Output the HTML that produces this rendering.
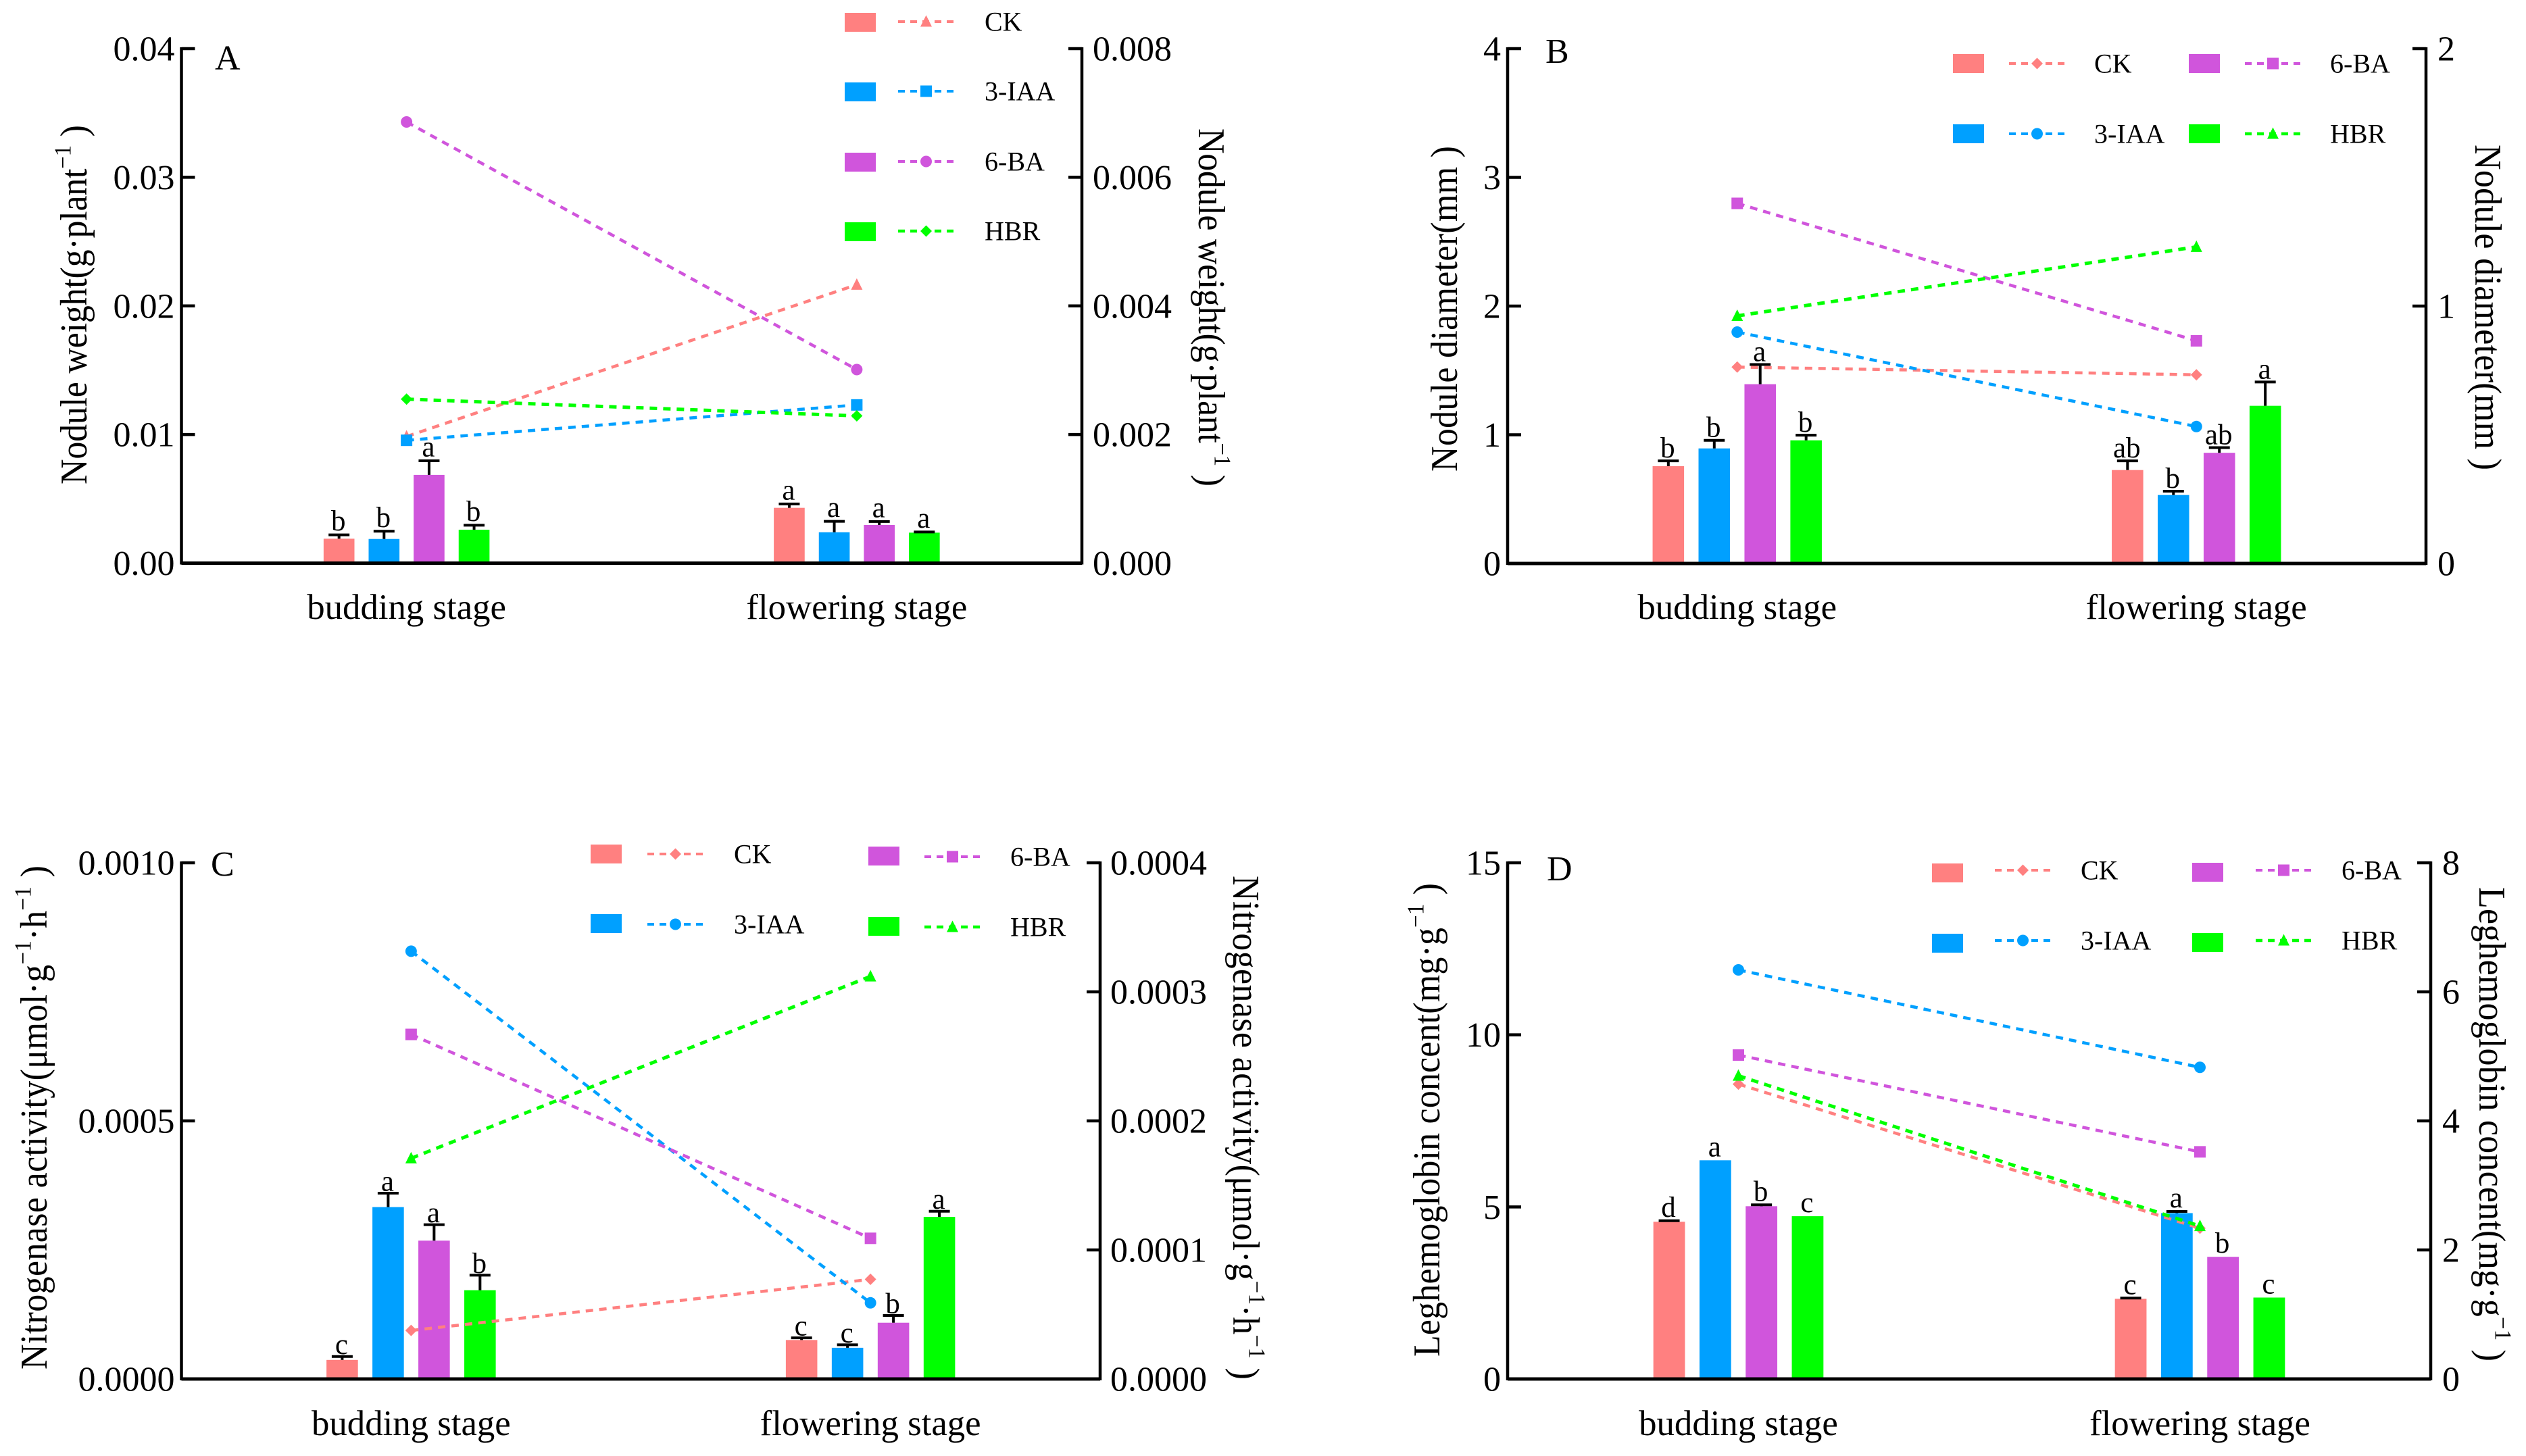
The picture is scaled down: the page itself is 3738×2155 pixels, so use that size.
<!DOCTYPE html>
<html lang="en">
<head>
<meta charset="utf-8">
<title>Nodule traits at budding and flowering stages</title>
<style>
html,body{margin:0;padding:0;background:#fff;}
svg{display:block;}
text{font-family:"Liberation Serif","DejaVu Serif",serif;fill:#000;}
</style>
</head>
<body>
<svg id="figure" xmlns="http://www.w3.org/2000/svg" width="3738" height="2155" viewBox="0 0 3738 2155"></svg>
<script>
const categories = ['budding stage', 'flowering stage'];
const seriesNames = ['CK', '3-IAA', '6-BA', 'HBR'];
const seriesSlugs = ['ck', '3-iaa', '6-ba', 'hbr'];
const seriesColors = ['#FF8080', '#00A0FF', '#D055DC', '#00FF00'];

/* Panel A: values ordered CK, 3-IAA, 6-BA, HBR */
const aBarsBudding = [0.0019, 0.00188, 0.00686, 0.0026];
const aBarsFlowering = [0.0043, 0.0024, 0.00297, 0.00237];
const aErrBudding = [0.0003, 0.0006, 0.0011, 0.00035];
const aErrFlowering = [0.0003, 0.00085, 0.00027, 0.00005];
const aLineBudding = [0.00197, 0.00191, 0.00686, 0.00255];
const aLineFlowering = [0.00433, 0.00246, 0.00301, 0.00229];
const aLettersBudding = ['b', 'b', 'a', 'b'];
const aLettersFlowering = ['a', 'a', 'a', 'a'];
const aLeftTicks = [0, 0.01, 0.02, 0.03, 0.04];
const aLeftLabels = ['0.00', '0.01', '0.02', '0.03', '0.04'];
const aRightTicks = [0, 0.002, 0.004, 0.006, 0.008];
const aRightLabels = ['0.000', '0.002', '0.004', '0.006', '0.008'];

/* Panel B */
const bBarsBudding = [0.756, 0.894, 1.393, 0.957];
const bBarsFlowering = [0.726, 0.532, 0.86, 1.225];
const bErrBudding = [0.041, 0.063, 0.153, 0.04];
const bErrFlowering = [0.071, 0.03, 0.04, 0.185];
const bLineBudding = [0.763, 0.899, 1.399, 0.962];
const bLineFlowering = [0.733, 0.532, 0.865, 1.23];
const bLettersBudding = ['b', 'b', 'a', 'b'];
const bLettersFlowering = ['ab', 'b', 'ab', 'a'];
const bLeftTicks = [0, 1, 2, 3, 4];
const bLeftLabels = ['0', '1', '2', '3', '4'];
const bRightTicks = [0, 1, 2];
const bRightLabels = ['0', '1', '2'];

/* Panel C */
const cBarsBudding = [0.0000369, 0.000333, 0.000268, 0.000172];
const cBarsFlowering = [0.0000755, 0.0000604, 0.000109, 0.000314];
const cErrBudding = [0.0000067, 0.000027, 0.000031, 0.000029];
const cErrFlowering = [0.0000042, 0.0000059, 0.000014, 0.000011];
const cLineBudding = [0.0000376, 0.0003315, 0.000267, 0.000171];
const cLineFlowering = [0.0000772, 0.000059, 0.000109, 0.000312];
const cLettersBudding = ['c', 'a', 'a', 'b'];
const cLettersFlowering = ['c', 'c', 'b', 'a'];
const cLeftTicks = [0, 0.0005, 0.001];
const cLeftLabels = ['0.0000', '0.0005', '0.0010'];
const cRightTicks = [0, 0.0001, 0.0002, 0.0003, 0.0004];
const cRightLabels = ['0.0000', '0.0001', '0.0002', '0.0003', '0.0004'];

/* Panel D */
const dBarsBudding = [4.568, 6.355, 5.02, 4.73];
const dBarsFlowering = [2.33, 4.82, 3.55, 2.366];
const dErrBudding = [0.03, 0, 0.04, 0];
const dErrFlowering = [0.02, 0.05, 0, 0];
const dLineBudding = [4.57, 6.34, 5.02, 4.7];
const dLineFlowering = [2.336, 4.83, 3.52, 2.37];
const dLettersBudding = ['d', 'a', 'b', 'c'];
const dLettersFlowering = ['c', 'a', 'b', 'c'];
const dLeftTicks = [0, 5, 10, 15];
const dLeftLabels = ['0', '5', '10', '15'];
const dRightTicks = [0, 2, 4, 6, 8];
const dRightLabels = ['0', '2', '4', '6', '8'];

const panels = [
  { id: 'a', letter: 'A', left: 268.5, right: 1601, top: 72, bottom: 833.5, sigGap: 6.5,
    letterX: 318, letterY: 103, leftGap: 10, rightGap: 16, xLabelY: 916,
    barsB: aBarsBudding, barsF: aBarsFlowering, errB: aErrBudding, errF: aErrFlowering,
    lineB: aLineBudding, lineF: aLineFlowering, letB: aLettersBudding, letF: aLettersFlowering,
    lt: aLeftTicks, ll: aLeftLabels, rt: aRightTicks, rl: aRightLabels,
    markers: ['triangle', 'square', 'circle', 'diamond'],
    leftTitle: { x: 128, y: 717, len: 532, parts: [['Nodule weight(g·plant'], ['−1', 1], [' )']] },
    rightTitle: { x: 1774, y: 190, len: 530, parts: [['Nodule weight(g·plant'], ['−1', 1], [' )']] },
    legend: [
      { sx: 1250, sy: 19, lx: 1329, ly: 32, tx: 1457 },
      { sx: 1250, sy: 122, lx: 1329, ly: 135, tx: 1457 },
      { sx: 1250, sy: 226, lx: 1329, ly: 239, tx: 1457 },
      { sx: 1250, sy: 329, lx: 1329, ly: 342, tx: 1457 }
    ] },
  { id: 'b', letter: 'B', left: 2231, right: 3590, top: 72, bottom: 834, sigGap: 5,
    letterX: 2287, letterY: 93, leftGap: 10, rightGap: 17, xLabelY: 916,
    barsB: bBarsBudding, barsF: bBarsFlowering, errB: bErrBudding, errF: bErrFlowering,
    lineB: bLineBudding, lineF: bLineFlowering, letB: bLettersBudding, letF: bLettersFlowering,
    lt: bLeftTicks, ll: bLeftLabels, rt: bRightTicks, rl: bRightLabels,
    markers: ['diamond', 'circle', 'square', 'triangle'],
    leftTitle: { x: 2156, y: 698, len: 482, parts: [['Nodule diameter(mm )']] },
    rightTitle: { x: 3663, y: 214, len: 482, parts: [['Nodule diameter(mm )']] },
    legend: [
      { sx: 2890, sy: 80, lx: 2973, ly: 94, tx: 3099 },
      { sx: 2890, sy: 184, lx: 2973, ly: 198, tx: 3099 },
      { sx: 3239, sy: 80, lx: 3322, ly: 94, tx: 3448 },
      { sx: 3239, sy: 184, lx: 3322, ly: 198, tx: 3448 }
    ] },
  { id: 'c', letter: 'C', left: 268.5, right: 1628, top: 1277, bottom: 2041, sigGap: 3.5,
    letterX: 312, letterY: 1296, leftGap: 10, rightGap: 15, xLabelY: 2124,
    barsB: cBarsBudding, barsF: cBarsFlowering, errB: cErrBudding, errF: cErrFlowering,
    lineB: cLineBudding, lineF: cLineFlowering, letB: cLettersBudding, letF: cLettersFlowering,
    lt: cLeftTicks, ll: cLeftLabels, rt: cRightTicks, rl: cRightLabels,
    markers: ['diamond', 'circle', 'square', 'triangle'],
    leftTitle: { x: 69, y: 2027, len: 746, parts: [['Nitrogenase activity(μmol·g'], ['−1', 1], ['·h'], ['−1', 1], [' )']] },
    rightTitle: { x: 1825, y: 1296, len: 746, parts: [['Nitrogenase activity(μmol·g'], ['−1', 1], ['·h'], ['−1', 1], [' )']] },
    legend: [
      { sx: 874, sy: 1250, lx: 958, ly: 1264, tx: 1086 },
      { sx: 874, sy: 1353, lx: 958, ly: 1368, tx: 1086 },
      { sx: 1285, sy: 1253, lx: 1368, ly: 1268, tx: 1495 },
      { sx: 1285, sy: 1357, lx: 1368, ly: 1372, tx: 1495 }
    ] },
  { id: 'd', letter: 'D', left: 2231, right: 3597, top: 1277, bottom: 2041, sigGap: 6,
    letterX: 2289, letterY: 1303, leftGap: 10, rightGap: 17, xLabelY: 2124,
    barsB: dBarsBudding, barsF: dBarsFlowering, errB: dErrBudding, errF: dErrFlowering,
    lineB: dLineBudding, lineF: dLineFlowering, letB: dLettersBudding, letF: dLettersFlowering,
    lt: dLeftTicks, ll: dLeftLabels, rt: dRightTicks, rl: dRightLabels,
    markers: ['diamond', 'circle', 'square', 'triangle'],
    leftTitle: { x: 2130, y: 2008, len: 701, parts: [['Leghemoglobin concent(mg·g'], ['−1', 1], [' )']] },
    rightTitle: { x: 3669, y: 1313, len: 702, parts: [['Leghemoglobin concent(mg·g'], ['−1', 1], [' )']] },
    legend: [
      { sx: 2859, sy: 1278, lx: 2952, ly: 1288, tx: 3079 },
      { sx: 2859, sy: 1382, lx: 2952, ly: 1392, tx: 3079 },
      { sx: 3244, sy: 1277, lx: 3338, ly: 1288, tx: 3465 },
      { sx: 3244, sy: 1381, lx: 3338, ly: 1392, tx: 3465 }
    ] }
];

const SVG_NS = 'http://www.w3.org/2000/svg';
function mk(tag, attrs, parent) {
  const node = document.createElementNS(SVG_NS, tag);
  for (const k in attrs) node.setAttribute(k, attrs[k]);
  parent.appendChild(node);
  return node;
}
function markerShape(kind, cx, cy, color, parent) {
  const s = 8.5;
  if (kind === 'circle') return mk('circle', { cx: cx, cy: cy, r: s, fill: color }, parent);
  if (kind === 'square') return mk('rect', { x: cx - s, y: cy - s, width: 2 * s, height: 2 * s, fill: color }, parent);
  let pts;
  if (kind === 'triangle') pts = [[cx, cy - s - 1], [cx + s, cy + s - 1], [cx - s, cy + s - 1]];
  else pts = [[cx, cy - s], [cx + s, cy], [cx, cy + s], [cx - s, cy]];
  return mk('polygon', { points: pts.map(p => p.join(',')).join(' '), fill: color }, parent);
}
function drawTitle(spec, rotation, parent, name) {
  const t = mk('text', {
    transform: 'translate(' + spec.x + ',' + spec.y + ') rotate(' + rotation + ') scale(1,1.07)',
    'font-size': 52, textLength: spec.len, lengthAdjust: 'spacing'
  }, parent);
  
  
  spec.parts.forEach(function (part, i) {
    const sp = mk('tspan', {}, t);
    sp.textContent = part[0];
    if (part[1]) {
      sp.setAttribute('font-size', 33);
      sp.setAttribute('dy', -22);
    } else if (i > 0) {
      sp.setAttribute('dy', 22);
    }
  });
}

const root = document.getElementById('figure');
panels.forEach(function (p) {
  const g = mk('g', {}, root);
  
  

  const height = p.bottom - p.top;
  const leftMax = p.lt[p.lt.length - 1];
  const rightMax = p.rt[p.rt.length - 1];
  const yLeft = v => p.bottom - (v / leftMax) * height;
  const yRight = v => p.bottom - (v / rightMax) * height;
  const band = (p.right - p.left) / categories.length;
  const xCat = i => p.left + (i + 0.5) * band;
  const barStep = band * 0.1;
  const barWidth = band * 0.0685;
  const xBar = (i, j) => xCat(i) + (j - 1.5) * barStep;

  const barSets = [p.barsB, p.barsF];
  const errSets = [p.errB, p.errF];
  const letSets = [p.letB, p.letF];

  categories.forEach(function (cat, i) {
    seriesNames.forEach(function (name, j) {
      const val = barSets[i][j];
      const err = errSets[i][j];
      const cx = xBar(i, j);
      const y = yLeft(val);
      const bar = mk('rect', { x: cx - barWidth / 2, y: y, width: barWidth, height: p.bottom - y, fill: seriesColors[j] }, g);
      
      
      const yTop = yLeft(val + err);
      if (err > 0) {
        const stem = mk('line', { x1: cx, x2: cx, y1: y, y2: yTop, stroke: '#000', 'stroke-width': 4 }, g);
        
        
        const cap = mk('line', { x1: cx - 15.5, x2: cx + 15.5, y1: yTop, y2: yTop, stroke: '#000', 'stroke-width': 4 }, g);
        
        
      }
      const sig = mk('text', { x: cx - 1, y: yTop - p.sigGap, 'font-size': 43, 'text-anchor': 'middle' }, g);
      sig.textContent = letSets[i][j];
      
      
    });
    const xl = mk('text', { x: xCat(i), y: p.xLabelY, 'font-size': 52.8, 'text-anchor': 'middle' }, g);
    xl.textContent = cat;
    
    
  });

  seriesNames.forEach(function (name, j) {
    const x1 = xCat(0), x2 = xCat(1);
    const y1 = yRight(p.lineB[j]), y2 = yRight(p.lineF[j]);
    const ln = mk('line', {
      x1: x1, y1: y1, x2: x2, y2: y2, stroke: seriesColors[j],
      'stroke-width': j === 3 ? 5 : 4.5, 'stroke-dasharray': '11 9'
    }, g);
    
    
    const m1 = markerShape(p.markers[j], x1, y1, seriesColors[j], g);
    
    
    const m2 = markerShape(p.markers[j], x2, y2, seriesColors[j], g);
    
    
  });

  const axisL = mk('line', { x1: p.left, x2: p.left, y1: p.top - 2, y2: p.bottom + 2, stroke: '#000', 'stroke-width': 4.5 }, g);
  
  
  const axisR = mk('line', { x1: p.right, x2: p.right, y1: p.top - 2, y2: p.bottom + 2, stroke: '#000', 'stroke-width': 4.5 }, g);
  
  
  const axisX = mk('line', { x1: p.left, x2: p.right, y1: p.bottom, y2: p.bottom, stroke: '#000', 'stroke-width': 5 }, g);
  
  

  p.lt.forEach(function (v, i) {
    const y = yLeft(v);
    const tick = mk('line', { x1: p.left, x2: p.left + 20, y1: y, y2: y, stroke: '#000', 'stroke-width': 4.5 }, g);
    
    
    const lab = mk('text', { x: p.left - p.leftGap, y: y + 17.5, 'font-size': 52, 'text-anchor': 'end' }, g);
    lab.textContent = p.ll[i];
    
    
  });
  p.rt.forEach(function (v, i) {
    const y = yRight(v);
    const tick = mk('line', { x1: p.right - 20, x2: p.right, y1: y, y2: y, stroke: '#000', 'stroke-width': 4.5 }, g);
    
    
    const lab = mk('text', { x: p.right + p.rightGap, y: y + 17.5, 'font-size': 52 }, g);
    lab.textContent = p.rl[i];
    
    
  });

  drawTitle(p.leftTitle, -90, g, 'left-y-axis-title');
  drawTitle(p.rightTitle, 90, g, 'right-y-axis-title');

  const pl = mk('text', { x: p.letterX, y: p.letterY, 'font-size': 52 }, g);
  pl.textContent = p.letter;
  
  

  p.legend.forEach(function (e, j) {
    const lg = mk('g', {}, g);
    
    
    mk('rect', { x: e.sx, y: e.sy, width: 46, height: 28, fill: seriesColors[j] }, lg);
    mk('line', {
      x1: e.lx, x2: e.lx + 83, y1: e.ly, y2: e.ly, stroke: seriesColors[j],
      'stroke-width': j === 3 ? 4.5 : 4, 'stroke-dasharray': '10 8'
    }, lg);
    markerShape(p.markers[j], e.lx + 41.5, e.ly, seriesColors[j], lg);
    const t = mk('text', { x: e.tx, y: e.ly + 13.5, 'font-size': 40 }, lg);
    t.textContent = seriesNames[j];
  });
});
</script>
</body>
</html>
